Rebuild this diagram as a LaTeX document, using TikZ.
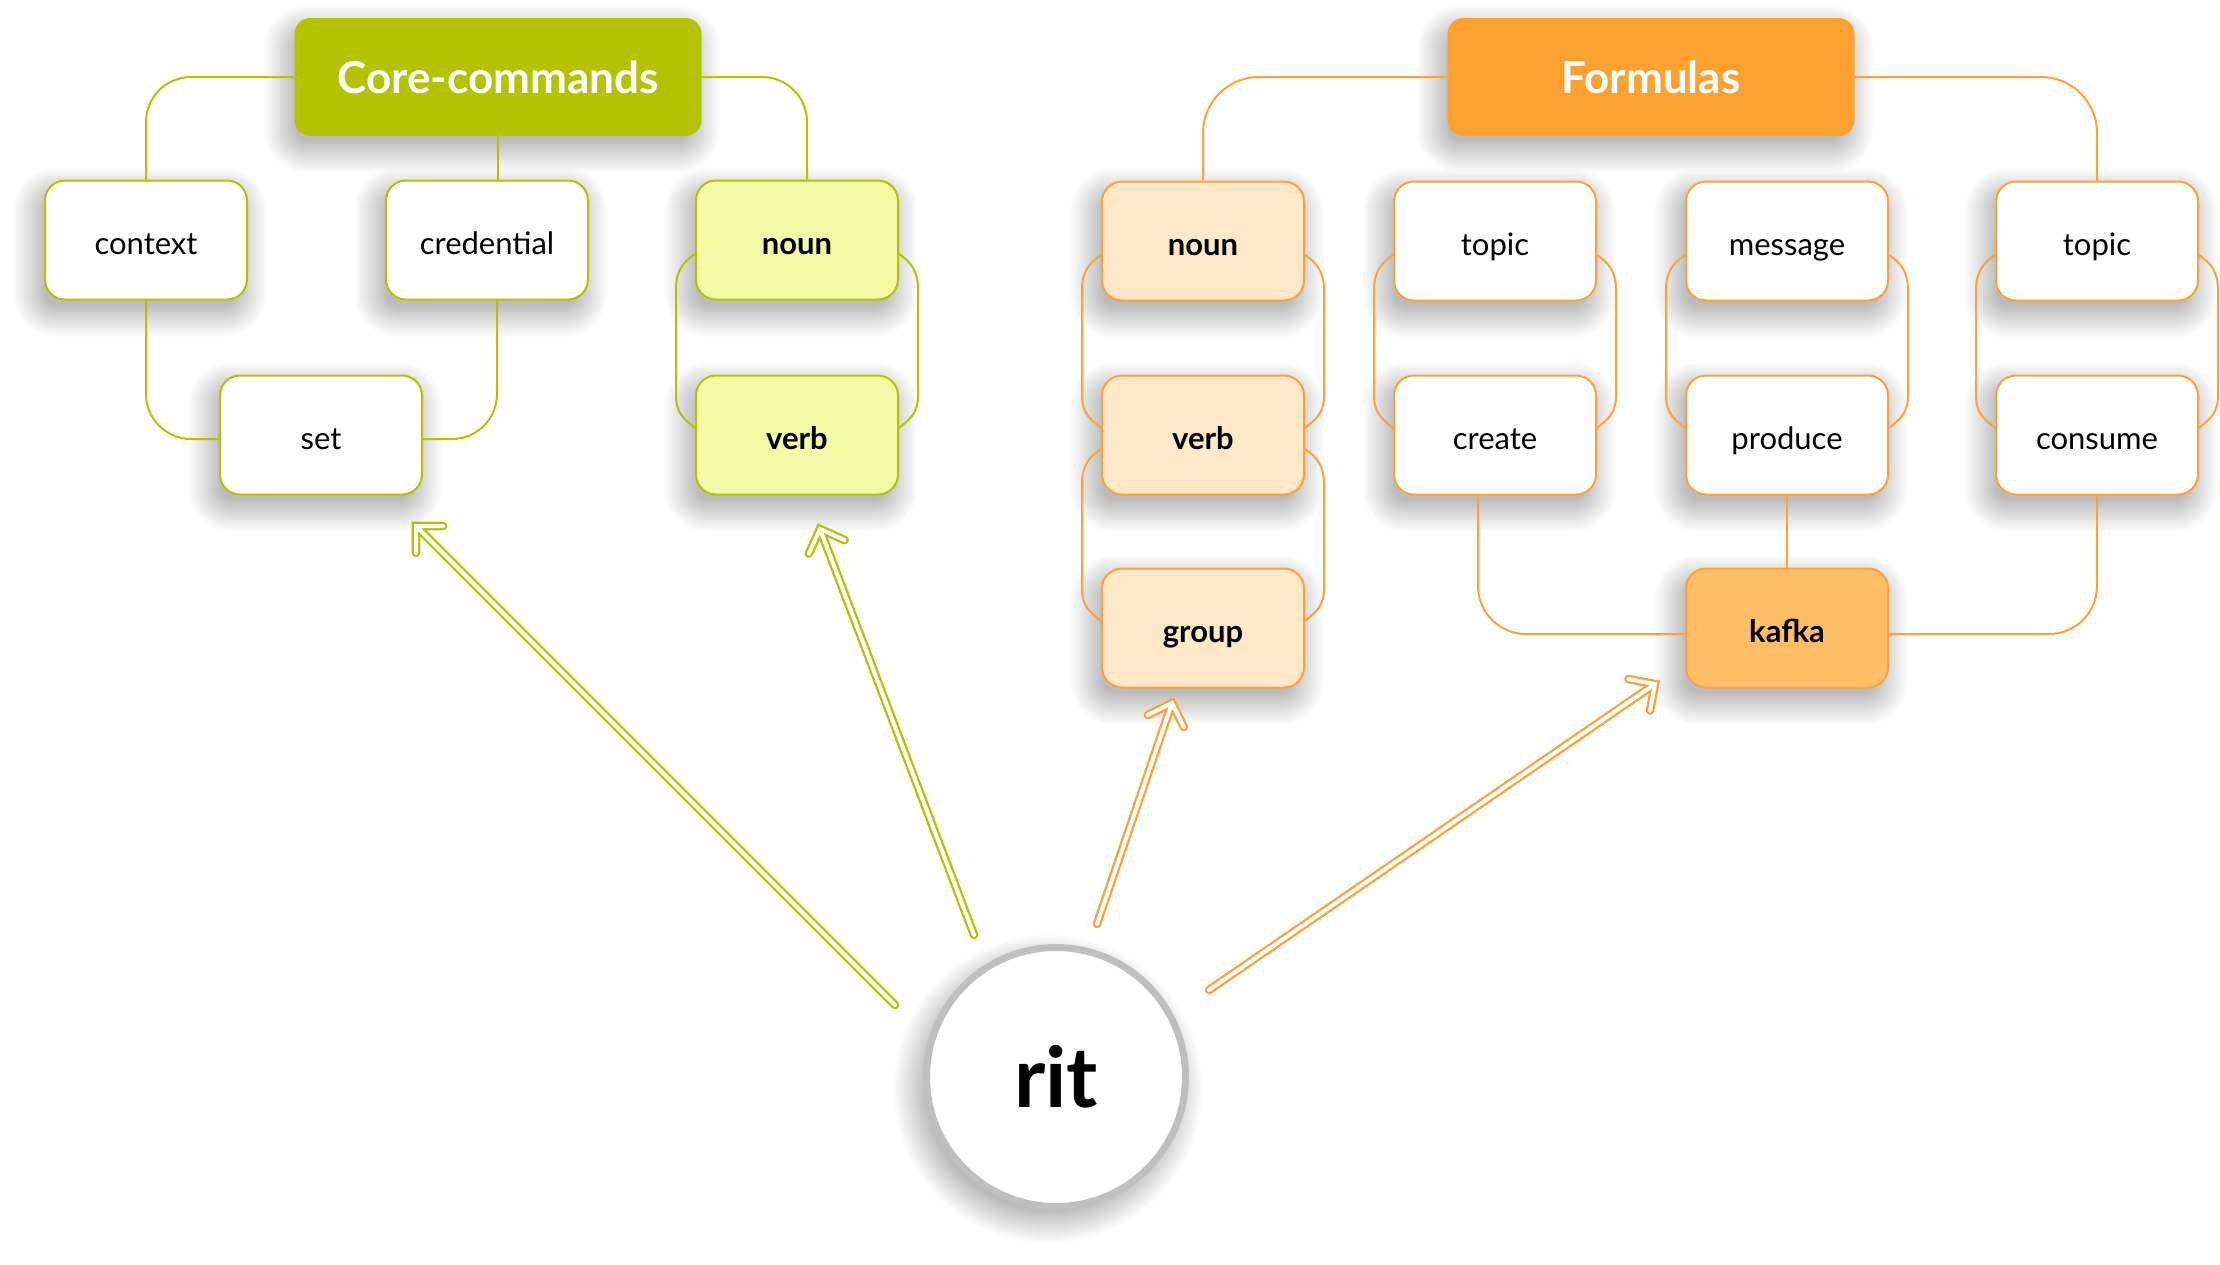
\documentclass[tikz,border=0pt]{standalone}
\usepackage{fontspec}
\setmainfont{Lato}
\usetikzlibrary{calc}
\pgfdeclarelayer{bgwhite}
\pgfdeclarelayer{shade}
\pgfsetlayers{bgwhite,shade,main}
\definecolor{gdark}{HTML}{B3C300}
\definecolor{glight}{HTML}{F2FAA5}
\definecolor{odark}{HTML}{FBA130}
\definecolor{olight}{HTML}{FFE8C8}
\definecolor{okafka}{HTML}{FEBE66}
\definecolor{oline}{HTML}{F9A33A}
\definecolor{ringgray}{HTML}{BFBFBF}
\newcommand\linkboxes[3]{%
  \draw[#1] ($(#2.west)+(0,14)$) .. controls +(-12,8) and +(0,-18) .. ($(#2.west)+(-19,49)$)
     -- ($(#3.west)+(-19,-40)$) .. controls +(0,18) and +(-12,-10) .. ($(#3.west)+(0,-7)$);
  \draw[#1] ($(#2.east)+(0,14)$) .. controls +(12,8) and +(0,-18) .. ($(#2.east)+(19,49)$)
     -- ($(#3.east)+(19,-40)$) .. controls +(0,18) and +(12,-10) .. ($(#3.east)+(0,-7)$);
}
% double-outlined arrow: shaft from #2 to #3 plus an open chevron at #3
\newcommand\ritarrow[3]{%
  \draw[#1] (#2) -- (#3) ($(#3)!27pt!45:(#2)$) -- (#3) -- ($(#3)!27pt!-45:(#2)$);
}
% soft shadow under a rectangular node
\newcommand\boxshade[1]{%
  \begin{pgfonlayer}{shade}
  \foreach \e in {-8,-6,...,24} {%
    \pgfmathsetmacro\rr{max(4,18+\e)}%
    \fill[black, opacity=0.016, rounded corners=\rr pt]
      ($(#1.north west)+(-6-\e,12-\e)$) rectangle ($(#1.south east)+(-6+\e,12+\e)$);
  }
  \end{pgfonlayer}}
\newcommand\circleshade[2]{%
  \begin{pgfonlayer}{shade}
  \foreach \e in {-8,-6,...,26} {%
    \fill[black, opacity=0.016] ($(#1.center)+(-8,12)$) circle[radius=#2+\e];
  }
  \end{pgfonlayer}}
\begin{document}
\begin{tikzpicture}[x=1pt,y=-1pt,
  box/.style={rounded corners=20pt, minimum width=202pt, minimum height=119pt, inner sep=0pt,
    line width=2pt, fill=white, text=black, text height=31pt, text depth=3pt,
    font=\fontsize{31}{36}\selectfont},
  gbox/.style={box, draw=gdark},
  gbold/.style={gbox, fill=glight, font=\fontsize{31}{36}\selectfont\bfseries},
  obox/.style={box, draw=oline},
  obold/.style={obox, fill=olight, font=\fontsize{31}{36}\selectfont\bfseries},
  head/.style={rounded corners=16pt, minimum width=407pt, minimum height=118pt, inner sep=0pt,
    text=white, font=\fontsize{44}{52}\selectfont\bfseries},
  gcon/.style={draw=gdark, line width=2pt},
  ocon/.style={draw=oline, line width=2pt},
  arrowline/.style={double=white, line width=2.3pt, double distance=4pt, line cap=round, line join=miter},
  garrow/.style={arrowline, draw=gdark},
  oarrow/.style={arrowline, draw=oline},
]
\begin{pgfonlayer}{bgwhite}
\fill[white] (0,0) rectangle (2220,1264);
\end{pgfonlayer}
\useasboundingbox (0,0) rectangle (2220,1264);

% Core-commands group
\node[head, fill=gdark] (core) at (498,77) {Core-commands};
\node[gbox] (context) at (146,240) {context};
\node[gbox] (credential) at (487,240) {credential};
\node[gbold] (gnoun) at (797,240) {noun};
\node[gbox] (set) at (321,435) {set};
\node[gbold] (gverb) at (797,435) {verb};

% Formulas group
\node[head, fill=odark] (formulas) at (1651,77) {Formulas};
\node[obold] (onoun) at (1203,241) {noun};
\node[obold] (overb) at (1203,435) {verb};
\node[obold] (group) at (1203,628) {group};
\node[obox] (topicA) at (1495,241) {topic};
\node[obox] (create) at (1495,435) {create};
\node[obox] (message) at (1787,241) {message};
\node[obox] (produce) at (1787,435) {produce};
\node[obox] (topicB) at (2097,241) {topic};
\node[obox] (consume) at (2097,435) {consume};
\node[obox, fill=okafka, font=\fontsize{31}{36}\selectfont\bfseries] (kafka) at (1787,628) {kafka};

% rit
\node[circle, draw=ringgray, line width=7pt, minimum size=259pt, fill=white,
  font=\fontsize{84}{96}\selectfont\bfseries] (rit) at (1056,1077) {rit};

% shadows
\foreach \n in {core,context,credential,gnoun,set,gverb,formulas,onoun,overb,group,
  topicA,create,message,produce,topicB,consume,kafka} {\boxshade{\n}}
\circleshade{rit}{128}

% green connectors
\draw[gcon, rounded corners=45pt] (core.west) -| (context.north);
\draw[gcon] (core.south) -- (core.south |- credential.north);
\draw[gcon, rounded corners=45pt] (core.east) -| ($(gnoun.north)+(10,0)$);
\draw[gcon, rounded corners=45pt] (context.south) |- ($(set.west)+(0,4)$);
\draw[gcon, rounded corners=45pt] ($(credential.south)+(10,0)$) |- ($(set.east)+(0,4)$);
\linkboxes{gcon}{gnoun}{gverb}

% orange connectors
\draw[ocon, rounded corners=56pt] (formulas.west) -| (onoun.north);
\draw[ocon, rounded corners=56pt] (formulas.east) -| (topicB.north);
\linkboxes{ocon}{onoun}{overb}
\linkboxes{ocon}{overb}{group}
\linkboxes{ocon}{topicA}{create}
\linkboxes{ocon}{message}{produce}
\linkboxes{ocon}{topicB}{consume}
\draw[ocon, rounded corners=48pt] ($(create.south)+(-17,0)$) |- ($(kafka.west)+(0,6)$);
\draw[ocon] (produce.south) -- (kafka.north);
\draw[ocon, rounded corners=48pt] (consume.south) |- ($(kafka.east)+(0,6)$);

% arrows
\coordinate (t1) at (895,1005); \coordinate (h1) at (416,526);
\coordinate (t2) at (974,935);  \coordinate (h2) at (820,529);
\coordinate (t3) at (1097,924); \coordinate (h3) at (1172,703);
\coordinate (t4) at (1209,990); \coordinate (h4) at (1655,684);
\ritarrow{garrow}{t1}{h1}
\ritarrow{garrow}{t2}{h2}
\ritarrow{oarrow}{t3}{h3}
\ritarrow{oarrow}{t4}{h4}
\end{tikzpicture}
\end{document}
